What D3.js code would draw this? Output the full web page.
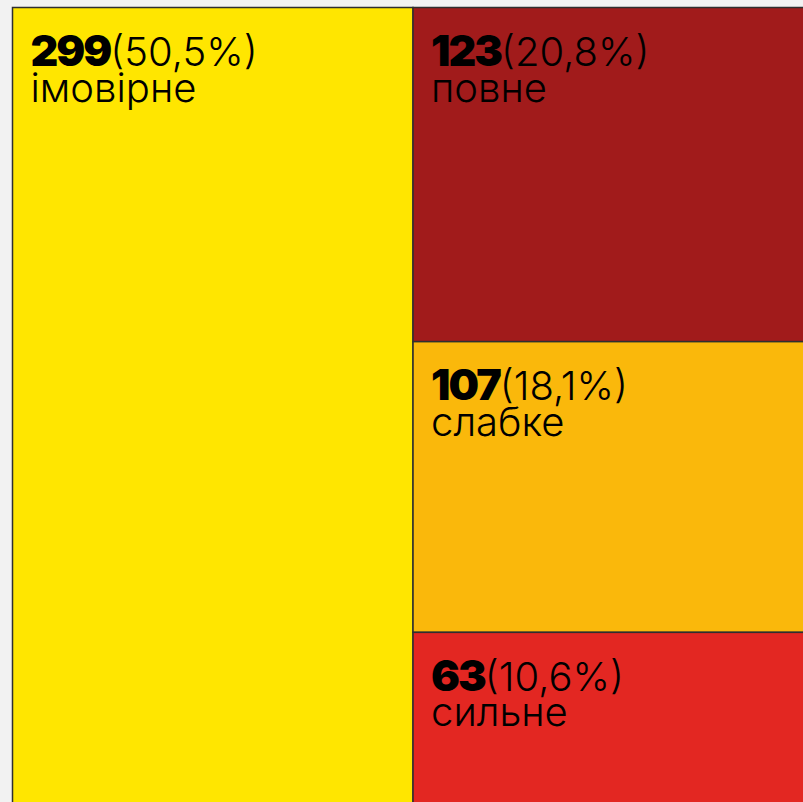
<!DOCTYPE html>
<html>
<head>
<meta charset="utf-8">
<script src="https://cdn.jsdelivr.net/npm/d3@7"></script>
<style>
  html, body { margin: 0; padding: 0; background: #f2f2f2; overflow: hidden; }
  svg { display: block; }
</style>
</head>
<body>
<div class="treemapChart"></div>
<script>
// chart data
const categories = ["імовірне", "повне", "слабке", "сильне"];
const counts = [299, 123, 107, 63];
const colors = ["#FFE600", "#A11B1B", "#FAB80B", "#E32722"];

const W = 803, H = 802;
const marginLeft = 12.5, marginTop = 7.5;
const areaW = 793, areaH = 796;

const total = d3.sum(counts);
const pct = (v) => (v / total * 100).toFixed(1).replace(".", ",") + "%";

/* build hierarchy: the biggest block on the left, the rest stacked on the right */
const rows = categories.map((c, i) => ({ name: c, value: counts[i], color: colors[i] }));
const root = d3.hierarchy({
  children: [rows[0], { children: rows.slice(1) }]
}).sum((d) => d.value || 0);

d3.treemap()
  .tile(d3.treemapSliceDice)
  .size([areaW, areaH])
  .paddingInner(0)
  .round(false)(root);

d3.select(".treemapChart").html("");
const svg = d3.select(".treemapChart")
  .append("svg")
  .attr("width", W)
  .attr("height", H)
  .append("g")
  .attr("transform", `translate(${marginLeft},${marginTop})`);

const cell = svg.selectAll("g.cell")
  .data(root.leaves())
  .enter()
  .append("g")
  .attr("class", "cell")
  .attr("transform", (d) => `translate(${d.x0},${d.y0})`);

cell.append("rect")
  .attr("width", (d) => d.x1 - d.x0)
  .attr("height", (d) => d.y1 - d.y0)
  .attr("fill", (d) => d.data.color)
  .attr("stroke", "#2f2f2f")
  .attr("stroke-width", 1.5);

const num = cell.append("text")
  .attr("x", 18)
  .attr("y", 58.5)
  .style("font-family", "Inter, Lato, sans-serif")
  .attr("fill", "#000");

num.append("tspan")
  .style("font-size", "43px")
  .style("font-weight", 900)
  .style("letter-spacing", "-2px")
  .text((d) => d.data.value);

num.append("tspan")
  .style("font-size", "40px")
  .style("font-weight", 300)
  .text((d) => "(" + pct(d.data.value) + ")");

cell.append("text")
  .attr("x", 18)
  .attr("y", 94)
  .style("font-family", "Inter, Lato, sans-serif")
  .style("font-size", "40px")
  .style("font-weight", 300)
  .attr("fill", "#000")
  .text((d) => d.data.name);
</script>
</body>
</html>
